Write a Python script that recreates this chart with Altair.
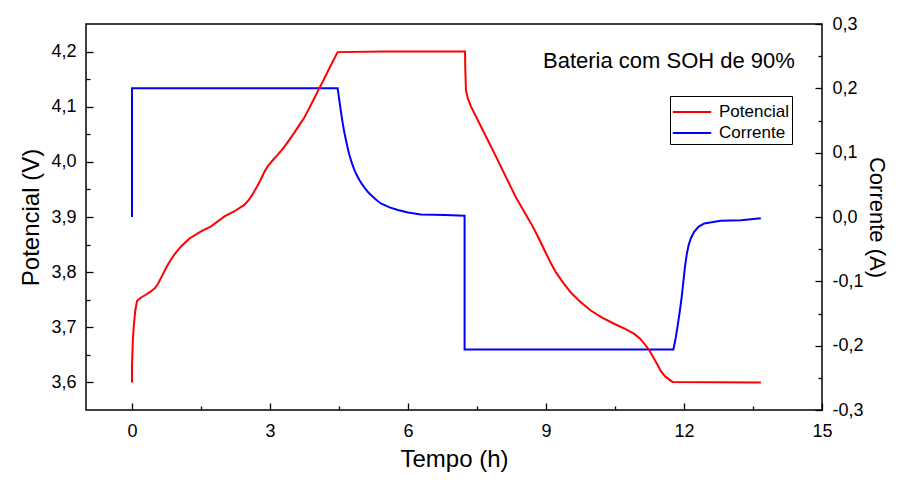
import altair as alt
import pandas as pd

# ---------------- data ----------------
pot_t = [0.0, 0.0, 0.01, 0.02, 0.04, 0.07, 0.11, 0.2, 0.3, 0.41, 0.5, 0.56, 0.67, 0.78, 0.92,
         1.07, 1.25, 1.5, 1.72, 2.01, 2.22, 2.44, 2.53, 2.62, 2.71, 2.80, 2.88, 2.95, 3.05,
         3.17, 3.30, 3.42, 3.53, 3.64, 3.75, 3.85, 3.95, 4.05, 4.15, 4.25, 4.36, 4.47, 5.5,
         6.5, 7.24, 7.245, 7.26, 7.30, 7.37, 7.55, 7.73, 7.91, 8.09, 8.22, 8.35, 8.53, 8.71,
         8.84, 8.96, 9.09, 9.22, 9.38, 9.54, 9.75, 9.98, 10.23, 10.49, 10.72, 10.92, 11.05,
         11.17, 11.26, 11.35, 11.43, 11.50, 11.60, 11.75, 13.67]
pot_v = [3.600, 3.630, 3.656, 3.680, 3.703, 3.730, 3.748, 3.754, 3.759, 3.765, 3.771, 3.778,
         3.796, 3.814, 3.832, 3.847, 3.861, 3.874, 3.883, 3.901, 3.910, 3.922, 3.930, 3.941,
         3.954, 3.968, 3.982, 3.992, 4.002, 4.013, 4.026, 4.040, 4.053, 4.067, 4.081, 4.097,
         4.113, 4.130, 4.146, 4.163, 4.181, 4.199, 4.200, 4.200, 4.200, 4.170, 4.130, 4.115,
         4.100, 4.070, 4.040, 4.010, 3.979, 3.957, 3.935, 3.909, 3.883, 3.862, 3.841, 3.819,
         3.799, 3.780, 3.763, 3.746, 3.730, 3.717, 3.706, 3.697, 3.688, 3.679, 3.667, 3.656,
         3.643, 3.631, 3.620, 3.610, 3.601, 3.600]

cur_t = [0.0, 0.0, 4.47, 4.50, 4.54, 4.58, 4.62, 4.68, 4.72, 4.77, 4.83, 4.88, 4.94, 5.00,
         5.05, 5.14, 5.23, 5.32, 5.41, 5.60, 5.78, 6.00, 6.28, 6.80, 7.23, 7.23, 11.77, 11.82,
         11.86, 11.91, 11.95, 11.99, 12.02, 12.06, 12.10, 12.15, 12.22, 12.32, 12.44, 12.60,
         12.80, 13.24, 13.67]
cur_a = [0.000, 0.200, 0.200, 0.185, 0.165, 0.146, 0.130, 0.110, 0.098, 0.086, 0.074, 0.066,
         0.058, 0.051, 0.046, 0.038, 0.032, 0.026, 0.021, 0.015, 0.011, 0.007, 0.004, 0.003,
         0.002, -0.206, -0.206, -0.188, -0.170, -0.146, -0.124, -0.098, -0.078, -0.058,
         -0.044, -0.033, -0.023, -0.015, -0.010, -0.008, -0.006, -0.005, -0.002]

x_ticks = [0, 3, 6, 9, 12, 15]
x_minor = [1.5, 4.5, 7.5, 10.5, 13.5]
v_ticks = [3.6, 3.7, 3.8, 3.9, 4.0, 4.1, 4.2]
v_minor = [3.65, 3.75, 3.85, 3.95, 4.05, 4.15]
a_ticks = [-0.3, -0.2, -0.1, 0.0, 0.1, 0.2, 0.3]
a_minor = [-0.25, -0.15, -0.05, 0.05, 0.15, 0.25]

series = ["Potencial", "Corrente"]
colors = ["#ff0000", "#0000ff"]
note = ["Bateria com SOH de 90%"]
x_title = "Tempo (h)"
v_title = "Potencial (V)"
a_title = "Corrente (A)"

# ---------------- tables ----------------
pot = pd.DataFrame({"t": pot_t, "v": pot_v, "k": list(range(len(pot_t))), "s": series[0]})
cur = pd.DataFrame({"t": cur_t, "a": cur_a, "k": list(range(len(cur_t))), "s": series[1]})
note_df = pd.DataFrame({"label": note})

FONT = "Liberation Sans"
COMMA = "replace(replace(format(datum.value, '.1f'), '.', ','), '\u2212', '-')"

xs = alt.Scale(domain=[-1, 15], nice=False, zero=False)
vs = alt.Scale(domain=[3.55, 4.25], nice=False, zero=False)
as_ = alt.Scale(domain=[-0.3, 0.3], nice=False, zero=False)


def major(orient, values, expr, lpad, title, tpad, tsize=24):
    kw = dict(orient=orient, values=values, tickSize=7, offset=-7, domain=False, grid=False,
              ticks=True, tickColor="black", tickWidth=1.3, labelFont=FONT, labelFontSize=18,
              labelColor="black", labelPadding=lpad, labelFlush=False, labelOverlap=False,
              labelBound=False, title=title, titleFont=FONT, titleFontSize=tsize,
              titleFontWeight="normal", titleColor="black", titlePadding=tpad)
    if expr:
        kw["labelExpr"] = expr
    else:
        kw["format"] = "d"
    return alt.Axis(**kw)


def minor(orient, values):
    return alt.Axis(orient=orient, values=values, tickSize=4, offset=-4, domain=False,
                    grid=False, ticks=True, tickColor="black", tickWidth=1.3, labels=False,
                    title=None)


color = alt.Color("s:N", scale=alt.Scale(domain=series, range=colors),
                  legend=alt.Legend(orient="none", legendX=584, legendY=72, title=None,
                                    strokeColor="black", padding=3, cornerRadius=0,
                                    symbolType="M-1.1,0H2.1", symbolStrokeWidth=2,
                                    symbolSize=576, labelFont=FONT, labelFontSize=17,
                                    labelColor="black", rowPadding=0, labelOffset=20,
                                    fillColor="white"))

blue = alt.Chart(cur).mark_line(strokeWidth=2).encode(
    x=alt.X("t:Q", scale=xs, axis=None),
    y=alt.Y("a:Q", scale=as_, axis=major("right", a_ticks, COMMA, 10, a_title, 1, 22)),
    color=color,
    order="k:Q",
)
blue_minor = alt.Chart(cur).mark_line(opacity=0).encode(
    x=alt.X("t:Q", scale=xs, axis=None),
    y=alt.Y("a:Q", scale=as_, axis=minor("right", a_minor)),
    order="k:Q",
)
red = alt.Chart(pot).mark_line(strokeWidth=2).encode(
    x=alt.X("t:Q", scale=xs, axis=major("bottom", x_ticks, None, 12, x_title, 7)),
    y=alt.Y("v:Q", scale=vs, axis=major("left", v_ticks, COMMA, 10, v_title, 7)),
    color=color,
    order="k:Q",
)
red_minor = alt.Chart(pot).mark_line(opacity=0).encode(
    x=alt.X("t:Q", scale=xs, axis=minor("bottom", x_minor)),
    y=alt.Y("v:Q", scale=vs, axis=minor("left", v_minor)),
    order="k:Q",
)
text = alt.Chart(note_df).mark_text(align="left", baseline="middle", font=FONT, fontSize=22,
                                    color="black").encode(
    x=alt.value(457), y=alt.value(37), text="label:N")

chart = alt.layer(blue, blue_minor, red, red_minor, text).resolve_scale(
    y="independent"
).resolve_axis(
    x="independent", y="independent"
).properties(
    width=736, height=386,
    autosize=alt.AutoSizeParams(type="none"),
    padding={"left": 78, "top": 16, "right": 69, "bottom": 64},
    background="white",
).configure_view(stroke="black", strokeWidth=1.5)

chart.save("out.html", embed_options={"renderer": "svg", "actions": False})
